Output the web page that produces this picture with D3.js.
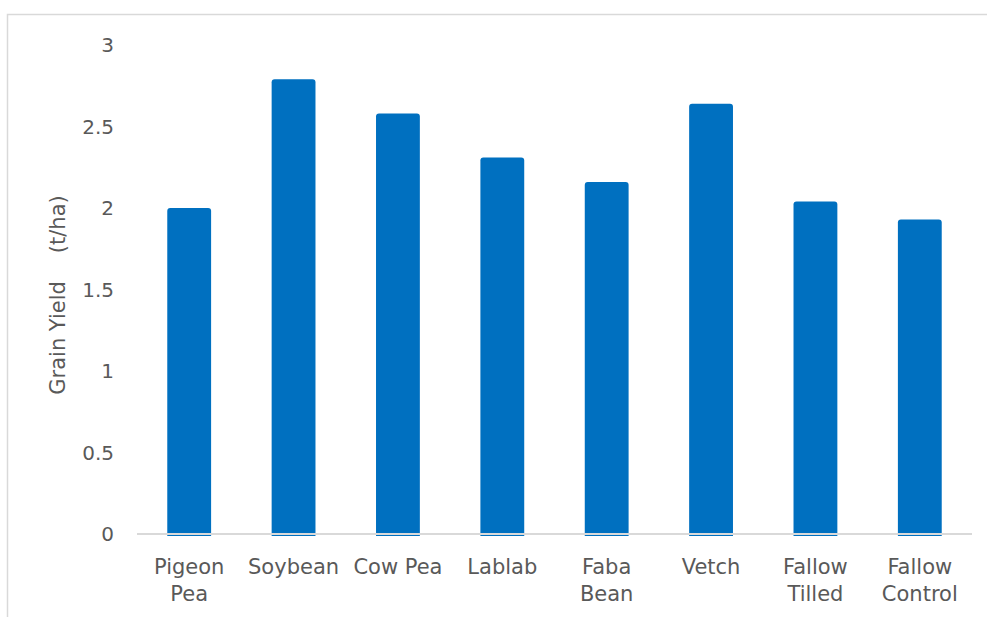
<!DOCTYPE html>
<html>
<head>
<meta charset="utf-8">
<script src="https://cdn.jsdelivr.net/npm/d3@7"></script>
<style>
  html, body { margin: 0; padding: 0; background: #fff; }
  svg { display: block; }
  text { font-family: "DejaVu Sans", sans-serif; fill: #595959; }
</style>
</head>
<body>
<script>
// chart data
var categories = [["Pigeon", "Pea"], ["Soybean"], ["Cow Pea"], ["Lablab"], ["Faba", "Bean"], ["Vetch"], ["Fallow", "Tilled"], ["Fallow", "Control"]];
var yieldValues = [2.00, 2.79, 2.58, 2.31, 2.16, 2.64, 2.04, 1.93];
var yTicks = [0, 0.5, 1, 1.5, 2, 2.5, 3];
var yTitleParts = ["Grain Yield", "(t/ha)"];

var width = 987, height = 617;

var svg = d3.select("body").append("svg")
    .attr("width", width)
    .attr("height", height);

// outer chart frame (only top + left visible)
svg.append("path")
    .attr("d", "M7.5," + height + "V14.5H" + width)
    .attr("fill", "none")
    .attr("stroke", "#d9d9d9")
    .attr("stroke-width", 1.5);

var labels = categories.map(d => d.join(" "));

var x = d3.scaleBand()
    .domain(labels)
    .range([137, 972])
    .paddingInner(0.58)
    .paddingOuter(0.29);

var y = d3.scaleLinear()
    .domain([0, 3])
    .range([534, 45]);

var data = labels.map((l, i) => ({ label: l, lines: categories[i], value: yieldValues[i] }));

// bars with slightly rounded tops
var r = 3;
svg.append("g")
    .selectAll("path")
    .data(data)
    .enter().append("path")
    .attr("fill", "#0070c0")
    .attr("d", d => {
        var x0 = x(d.label), x1 = x0 + x.bandwidth();
        var top = y(d.value), bot = y(0) + 2;
        return "M" + x0 + "," + bot +
            "V" + (top + r) +
            "Q" + x0 + "," + top + " " + (x0 + r) + "," + top +
            "H" + (x1 - r) +
            "Q" + x1 + "," + top + " " + x1 + "," + (top + r) +
            "V" + bot + "Z";
    });

// x axis baseline
svg.append("line")
    .attr("x1", 137).attr("x2", 972)
    .attr("y1", y(0)).attr("y2", y(0))
    .attr("stroke", "#d9d9d9")
    .attr("stroke-width", 2);

// y tick labels
svg.append("g")
    .selectAll("text")
    .data(yTicks)
    .enter().append("text")
    .attr("x", 114)
    .attr("y", d => y(d))
    .attr("dy", "0.36em")
    .attr("text-anchor", "end")
    .style("font-size", "20px")
    .text(d => d);

// x category labels (two lines where needed)
var xl = svg.append("g")
    .selectAll("text")
    .data(data)
    .enter().append("text")
    .attr("text-anchor", "middle")
    .style("font-size", "21px");

xl.selectAll("tspan")
    .data(d => d.lines.map(t => ({ t: t, cx: x(d.label) + x.bandwidth() / 2 })))
    .enter().append("tspan")
    .attr("x", d => d.cx)
    .attr("y", (d, i) => 574 + i * 27)
    .text(d => d.t);

// y axis title (wide gap before the unit)
var title = svg.append("text")
    .attr("transform", "translate(65,295) rotate(-90)")
    .attr("text-anchor", "middle")
    .style("font-size", "21px");
title.selectAll("tspan")
    .data(yTitleParts)
    .enter().append("tspan")
    .attr("dx", (d, i) => i ? 28 : 0)
    .text(d => d);
</script>
</body>
</html>
